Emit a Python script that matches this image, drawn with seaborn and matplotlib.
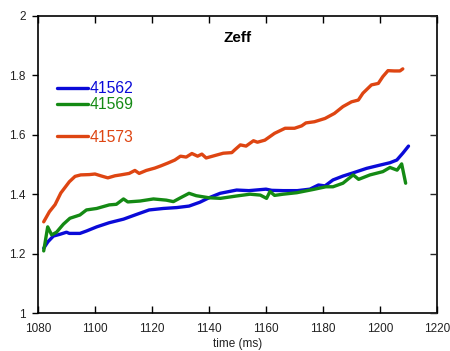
import numpy as np
import pandas as pd
import matplotlib
matplotlib.use("Agg")
import matplotlib.pyplot as plt
import seaborn as sns
from matplotlib.lines import Line2D

# ---- data ----
t_41562 = [1082, 1083.5, 1085.4, 1087.7, 1090, 1091, 1094.7, 1097, 1100.6, 1105, 1110,
           1114.6, 1119, 1124, 1128.7, 1133, 1136.8, 1140, 1143.9, 1149.7, 1154, 1160,
           1162, 1166, 1171, 1175.4, 1178.4, 1180.7, 1183.5, 1187, 1190.6, 1195.3, 1200,
           1203.5, 1205.9, 1208, 1210]
z_41562 = [1.218, 1.240, 1.259, 1.265, 1.272, 1.268, 1.268, 1.276, 1.290, 1.304, 1.316,
           1.332, 1.347, 1.352, 1.355, 1.360, 1.373, 1.388, 1.403, 1.414, 1.412, 1.417,
           1.413, 1.412, 1.412, 1.417, 1.431, 1.428, 1.448, 1.461, 1.472, 1.487, 1.498,
           1.506, 1.515, 1.538, 1.562]

t_41569 = [1082, 1083.4, 1084.8, 1086.5, 1088.9, 1091.2, 1094.7, 1097, 1100.6, 1105, 1107.5,
           1110, 1111.5, 1115.8, 1120.5, 1125, 1127.5, 1130, 1133, 1135.5, 1140, 1144,
           1149.7, 1154.4, 1158, 1160.2, 1161.4, 1163, 1166, 1170.8, 1176.6, 1181, 1183.5,
           1187, 1190.6, 1192.5, 1196.5, 1201, 1203.5, 1206, 1207.6, 1209]
z_41569 = [1.209, 1.290, 1.263, 1.272, 1.299, 1.319, 1.330, 1.347, 1.352, 1.364, 1.366,
           1.384, 1.374, 1.377, 1.384, 1.380, 1.375, 1.388, 1.403, 1.395, 1.388, 1.386,
           1.394, 1.400, 1.397, 1.386, 1.409, 1.396, 1.400, 1.405, 1.416, 1.425, 1.425,
           1.437, 1.465, 1.450, 1.465, 1.476, 1.490, 1.481, 1.502, 1.437]

t_41573 = [1082, 1084, 1086, 1088, 1091, 1093, 1095, 1098, 1100, 1102, 1104.5, 1107, 1109,
           1112, 1114, 1115.5, 1118, 1121, 1123, 1125.6, 1128, 1130, 1132, 1134, 1136,
           1137.5, 1139, 1142, 1145, 1148, 1149, 1151, 1153, 1155.6, 1157, 1159.6, 1163,
           1166.7, 1170, 1172.5, 1174, 1177, 1180.7, 1184, 1187, 1190, 1192.4, 1194, 1197,
           1199.4, 1201, 1202.8, 1205, 1207, 1208]
z_41573 = [1.307, 1.341, 1.365, 1.404, 1.442, 1.460, 1.465, 1.466, 1.468, 1.462, 1.455,
           1.462, 1.465, 1.470, 1.480, 1.470, 1.480, 1.488, 1.495, 1.505, 1.515, 1.528,
           1.525, 1.537, 1.528, 1.535, 1.522, 1.530, 1.538, 1.540, 1.549, 1.566, 1.562,
           1.580, 1.575, 1.582, 1.605, 1.622, 1.622, 1.630, 1.640, 1.644, 1.655, 1.672,
           1.695, 1.711, 1.717, 1.740, 1.768, 1.773, 1.796, 1.816, 1.815, 1.815, 1.822]

shots = ["41562", "41569", "41573"]
colors = {"41562": "#0a0ad8", "41569": "#148a14", "41573": "#de4512"}
x_ticks = [1080, 1100, 1120, 1140, 1160, 1180, 1200, 1220]
y_ticks = [1.0, 1.2, 1.4, 1.6, 1.8, 2.0]
y_tick_labels = ["1", "1.2", "1.4", "1.6", "1.8", "2"]

df = pd.concat([
    pd.DataFrame({"time": t_41562, "zeff": z_41562, "shot": "41562"}),
    pd.DataFrame({"time": t_41569, "zeff": z_41569, "shot": "41569"}),
    pd.DataFrame({"time": t_41573, "zeff": z_41573, "shot": "41573"}),
])

sns.set_theme(style="white")
plt.rcParams["font.family"] = ["Liberation Sans", "DejaVu Sans"]

fig = plt.figure(figsize=(4.5, 3.51), dpi=100)
ax = fig.add_axes([38/450, 1 - 313/351, (437-38)/450, (313-16)/351])

sns.lineplot(data=df, x="time", y="zeff", hue="shot", palette=colors, hue_order=shots,
             estimator=None, sort=False, linewidth=2.4, ax=ax, legend=False)

ax.set_xlim(1080, 1220)
ax.set_ylim(1.0, 2.0)
ax.set_xticks(x_ticks)
ax.set_xticklabels([str(v) for v in x_ticks])
ax.set_yticks(y_ticks)
ax.set_yticklabels(y_tick_labels)

for s in ax.spines.values():
    s.set_color("black")
    s.set_linewidth(1.2)

ax.tick_params(axis="x", direction="in", length=5, width=1, top=True, bottom=True,
               labelsize=8.5, pad=7, colors="black")
ax.tick_params(axis="y", direction="out", length=4, width=1, left=True, right=False,
               labelsize=8.5, pad=5, colors="black")
ax.tick_params(axis="x", labelcolor="#222222")
ax.tick_params(axis="y", labelcolor="#222222")

ax2 = ax.twinx()
ax2.set_ylim(ax.get_ylim())
ax2.set_yticks(y_ticks)
ax2.tick_params(axis="y", direction="in", length=5, width=1, right=True, labelright=False)
for s in ax2.spines.values():
    s.set_visible(False)

ax.set_xlabel("time (ms)", fontsize=8.5, labelpad=2.5, color="#222222")
ax.set_ylabel("")

ax.text(0.5, 0.926, "Zeff", transform=ax.transAxes, ha="center", va="center",
        fontsize=11, fontweight="bold", color="black")

handles = [Line2D([], [], color=colors["41562"], lw=2.4),
           Line2D([], [], color=colors["41569"], lw=2.4),
           Line2D([], [], color="none", lw=0),
           Line2D([], [], color=colors["41573"], lw=2.4)]
labels = ["41562", "41569", "", "41573"]
leg = ax.legend(handles, labels, loc="upper left", bbox_to_anchor=((57-38)/399, 1 - (81-16)/297),
                frameon=False, fontsize=11.3, handlelength=2.0, handletextpad=0.05,
                labelspacing=0.08, borderpad=0, borderaxespad=0)
for txt, sh in zip(leg.get_texts(), ["41562", "41569", "", "41573"]):
    if sh:
        txt.set_color(colors[sh])

fig.savefig("out.png", dpi=100)
